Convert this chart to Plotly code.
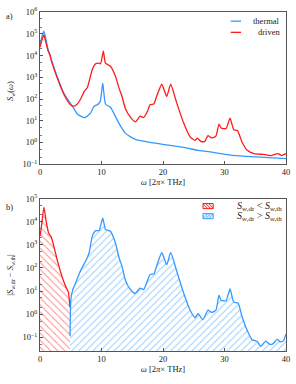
import numpy as np
import plotly.graph_objects as go
from plotly.subplots import make_subplots

# ---- data (log10 of values) ----
thermal_x = [0, 0.3, 0.64, 1.0, 1.3, 1.8, 2.9, 4.0, 5.2, 6.1, 7.3, 8.2, 8.8, 9.3, 9.8, 10.2,
             10.65, 11.45, 12.0, 12.8, 13.9, 15.5, 18.2, 20.9, 23.6, 25.7, 27.3, 31.05, 35, 40]
thermal_log = [4.45, 4.85, 5.12, 4.7, 4.3, 3.85, 2.95, 2.2, 1.7, 1.3, 1.14, 1.35, 1.67, 1.73, 1.9, 2.73,
               1.77, 1.62, 1.35, 0.9, 0.42, 0.14, -0.01, -0.12, -0.24, -0.36, -0.42, -0.58, -0.66, -0.74]

driven_x = [0, 0.3, 0.64, 1.0, 1.3, 1.6, 1.8, 2.9, 4.0, 5.0, 5.5, 6.0, 6.6, 7.2, 7.7, 8.5, 9.05, 9.5,
            9.85, 10.3, 10.65, 11.45, 12.26, 12.85, 13.3, 13.9, 14.6, 15.5, 16.3, 16.85, 17.5, 17.9,
            18.5, 19.0, 19.8, 20.6, 21.25, 22.2, 23.3, 24.4, 25.2, 25.6, 26.2, 26.8, 27.3, 27.9,
            28.6, 29.1, 29.45, 30.25, 30.9, 31.5, 32.1, 32.9, 33.7, 34.8, 36.4, 37.5, 38.7, 39.3, 40]
driven_log = [4.38, 4.7, 4.95, 4.55, 4.22, 4.05, 3.8, 2.9, 2.15, 1.72, 1.67, 1.75, 2.0, 2.35, 2.53, 3.36,
              3.62, 3.65, 3.62, 4.2, 3.65, 3.51, 3.06, 2.5, 2.15, 1.55, 1.2, 0.95, 1.21, 1.15, 1.45,
              1.74, 1.77, 2.15, 2.68, 2.12, 2.68, 1.85, 0.94, 0.26, 0.1, 0.2, 0.04, 0.05, 0.32, 0.21,
              0.29, 0.85, 0.67, 0.64, 1.12, 0.59, 0.55, -0.01, -0.36, -0.51, -0.55, -0.6, -0.51, -0.6, -0.5]

diff_neg_x = [0, 0.2, 0.64, 1.0, 1.4, 1.8, 2.1, 2.9, 3.7, 4.2, 4.6, 4.87]
diff_neg_log = [3.38, 3.73, 4.63, 4.02, 3.52, 3.35, 3.1, 2.24, 1.53, 1.18, 0.96, 0.3]

diff_pos_x = [4.88, 5.03, 5.3, 5.8, 6.6, 7.45, 8.0, 8.5, 9.05, 9.6, 10.2, 10.65, 11.45, 12.26, 12.85,
              13.3, 13.9, 14.6, 15.26, 15.5, 16.3, 16.85, 17.9, 18.5, 19.0, 19.8, 20.6, 21.25, 22.2,
              23.3, 24.4, 25.2, 25.7, 26.5, 27.3, 27.9, 28.6, 29.1, 29.45, 30.25, 30.9, 31.5, 32.2,
              32.9, 33.7, 34.5, 35.3, 35.9, 36.7, 37.3, 37.8, 38.55, 39.1, 39.6, 40]
diff_pos_log = [-0.96, 0.68, 1.03, 1.36, 1.89, 2.31, 2.67, 3.38, 3.62, 3.62, 4.16, 3.67, 3.59, 3.09, 2.45,
                2.1, 1.46, 1.1, 0.92, 0.9, 1.13, 1.06, 1.72, 1.74, 2.1, 2.67, 2.14, 2.67, 1.89,
                0.96, 0.18, -0.15, 0.02, -0.24, 0.17, 0.07, 0.17, 0.82, 0.6, 0.58, 1.09, 0.52, 0.48,
                -0.15, -0.71, -1.11, -1.18, -1.4, -1.17, -1.3, -1.3, -1.1, -1.2, -1.15, -0.86]

series_names = ["thermal", "driven"]
diff_names = ["<i>S</i><sub><i>w</i>,dr</sub>&nbsp;&lt;&nbsp;<i>S</i><sub><i>w</i>,th</sub>",
              "<i>S</i><sub><i>w</i>,dr</sub>&nbsp;&gt;&nbsp;<i>S</i><sub><i>w</i>,th</sub>"]
x_ticks = [0, 10, 20, 30, 40]
top_exponents = [-1, 0, 1, 2, 3, 4, 5, 6]
bottom_exponents = [-1, 0, 1, 2, 3, 4, 5]

BLUE = "#3399ff"
RED = "#ff1a1a"
FONT = "Liberation Serif"
TXT = "#222"

W, H = 296, 384
ML, MR, MT, MB = 40, 7, 6, 33
PW, PH = W - ML - MR, H - MT - MB


def px(xp):
    return (xp - ML) / PW


def py(yp):
    return (H - MB - yp) / PH


def pow_label(k):
    return "10<sup>%s</sup>" % (str(k).replace("-", "−"))


fig = make_subplots(rows=2, cols=1, vertical_spacing=0.1015)

SMOOTH = 0.5
fig.add_trace(go.Scatter(x=thermal_x, y=10 ** np.array(thermal_log), mode="lines",
                         line=dict(color=BLUE, width=1.3, shape="spline", smoothing=SMOOTH),
                         name=series_names[0], showlegend=False),
              row=1, col=1)
fig.add_trace(go.Scatter(x=driven_x, y=10 ** np.array(driven_log), mode="lines",
                         line=dict(color=RED, width=1.3, shape="spline", smoothing=SMOOTH),
                         name=series_names[1], showlegend=False),
              row=1, col=1)

floor = 1e-3
fig.add_trace(go.Scatter(x=diff_neg_x, y=[floor] * len(diff_neg_x), mode="lines",
                         line=dict(width=0), showlegend=False, hoverinfo="skip"), row=2, col=1)
fig.add_trace(go.Scatter(x=diff_neg_x, y=10 ** np.array(diff_neg_log), mode="lines",
                         line=dict(color=RED, width=1.3, shape="spline", smoothing=SMOOTH),
                         fill="tonexty", fillcolor="rgba(0,0,0,0)",
                         fillpattern=dict(shape="\\", fgcolor=RED, bgcolor="rgba(255,255,255,0)",
                                          size=5, solidity=0.2),
                         name=diff_names[0], showlegend=False), row=2, col=1)
fig.add_trace(go.Scatter(x=diff_pos_x, y=[floor] * len(diff_pos_x), mode="lines",
                         line=dict(width=0), showlegend=False, hoverinfo="skip"), row=2, col=1)
fig.add_trace(go.Scatter(x=diff_pos_x, y=10 ** np.array(diff_pos_log), mode="lines",
                         line=dict(color=BLUE, width=1.3, shape="spline", smoothing=SMOOTH),
                         fill="tonexty", fillcolor="rgba(0,0,0,0)",
                         fillpattern=dict(shape="/", fgcolor=BLUE, bgcolor="rgba(255,255,255,0)",
                                          size=5, solidity=0.2),
                         name=diff_names[1], showlegend=False), row=2, col=1)

axis_common = dict(showline=True, linecolor="#555", linewidth=1, mirror=True, ticks="inside",
                   ticklen=3, tickcolor="#555", showgrid=False, zeroline=False,
                   ticklabeloverflow="allow",
                   tickfont=dict(family=FONT, size=8.5, color=TXT))

xtitle = "<i>ω</i> [2<i>π</i>× THz]"
for r in (1, 2):
    fig.update_xaxes(range=[-0.001, 40.001], tickvals=x_ticks, ticktext=[str(v) for v in x_ticks],
                     row=r, col=1,
                     title=dict(text=xtitle, font=dict(family=FONT, size=8.5, color=TXT), standoff=2),
                     **axis_common)

fig.update_yaxes(type="log", range=[-1.002, 6.002], tickvals=[10.0 ** k for k in top_exponents],
                 ticktext=[pow_label(k) for k in top_exponents], row=1, col=1,
                 minor=dict(ticks="inside", ticklen=1.5, tickcolor="#777", showgrid=False),
                 **axis_common)
fig.update_yaxes(type="log", range=[-1.6, 5.002], tickvals=[10.0 ** k for k in bottom_exponents],
                 ticktext=[pow_label(k) for k in bottom_exponents], row=2, col=1,
                 minor=dict(ticks="inside", ticklen=1.5, tickcolor="#777", showgrid=False),
                 **axis_common)

shapes = []
annotations = []
# top legend (manual)
for name, col, yp in [(series_names[0], BLUE, 15.3), (series_names[1], RED, 26.7)]:
    shapes.append(dict(type="line", xref="paper", yref="paper", x0=px(233), x1=px(243.5),
                       y0=py(yp), y1=py(yp), line=dict(color=col, width=1.3)))
    annotations.append(dict(text=name, xref="paper", yref="paper", x=px(285), y=py(yp),
                            xanchor="right", yanchor="middle", showarrow=False,
                            font=dict(family=FONT, size=8.5, color=TXT)))
# bottom legend (manual patches)
for name, col, tint, yc, hatch in [(diff_names[0], RED, "rgba(255,26,26,0.12)", 203.5, "back"),
                                    (diff_names[1], BLUE, "rgba(51,153,255,0.12)", 213.8, "fwd")]:
    x0, x1 = 205.0, 215.3
    y0, y1 = yc - 2.6, yc + 2.6
    shapes.append(dict(type="rect", xref="paper", yref="paper", x0=px(x0), x1=px(x1),
                       y0=py(y0), y1=py(y1), line=dict(color=col, width=1), fillcolor=tint))
    for k in (2.2, 5.2, 8.2):
        xa, xb = x0 + k - 2.2, x0 + k + 2.2
        if hatch == "back":
            shapes.append(dict(type="line", xref="paper", yref="paper", x0=px(xa), x1=px(xb),
                               y0=py(y0 + 0.3), y1=py(y1 - 0.3), line=dict(color=col, width=0.8)))
        else:
            shapes.append(dict(type="line", xref="paper", yref="paper", x0=px(xa), x1=px(xb),
                               y0=py(y1 - 0.3), y1=py(y0 + 0.3), line=dict(color=col, width=0.8)))
    annotations.append(dict(text=name, xref="paper", yref="paper", x=px(287), y=py(yc),
                            xanchor="right", yanchor="middle", showarrow=False,
                            font=dict(family=FONT, size=10, color=TXT)))

# y-axis titles and panel labels
annotations += [
    dict(text="<i>S<sub>w</sub></i>(<i>ω</i>)", xref="paper", yref="paper", x=px(10), y=py(86),
         textangle=-90, showarrow=False, xanchor="center", yanchor="middle",
         font=dict(family=FONT, size=8.5, color=TXT)),
    dict(text="|<i>S</i><sub><i>w</i>,dr</sub> − <i>S</i><sub><i>w</i>,th</sub>|", xref="paper", yref="paper",
         x=px(10), y=py(273), textangle=-90, showarrow=False, xanchor="center", yanchor="middle",
         font=dict(family=FONT, size=8.5, color=TXT)),
    dict(text="a)", x=px(4), y=py(10), xref="paper", yref="paper", showarrow=False,
         xanchor="left", yanchor="middle", font=dict(family=FONT, size=8.5, color=TXT)),
    dict(text="b)", x=px(4), y=py(204), xref="paper", yref="paper", showarrow=False,
         xanchor="left", yanchor="middle", font=dict(family=FONT, size=8.5, color=TXT)),
]

fig.update_layout(
    width=W, height=H,
    margin=dict(l=ML, r=MR, t=MT, b=MB),
    plot_bgcolor="white", paper_bgcolor="white",
    font=dict(family=FONT, size=8.5, color=TXT),
    showlegend=False,
    shapes=shapes,
    annotations=annotations,
)

fig.write_html("out.html", config={"displayModeBar": False},
               post_script="document.body.style.margin='0';")
